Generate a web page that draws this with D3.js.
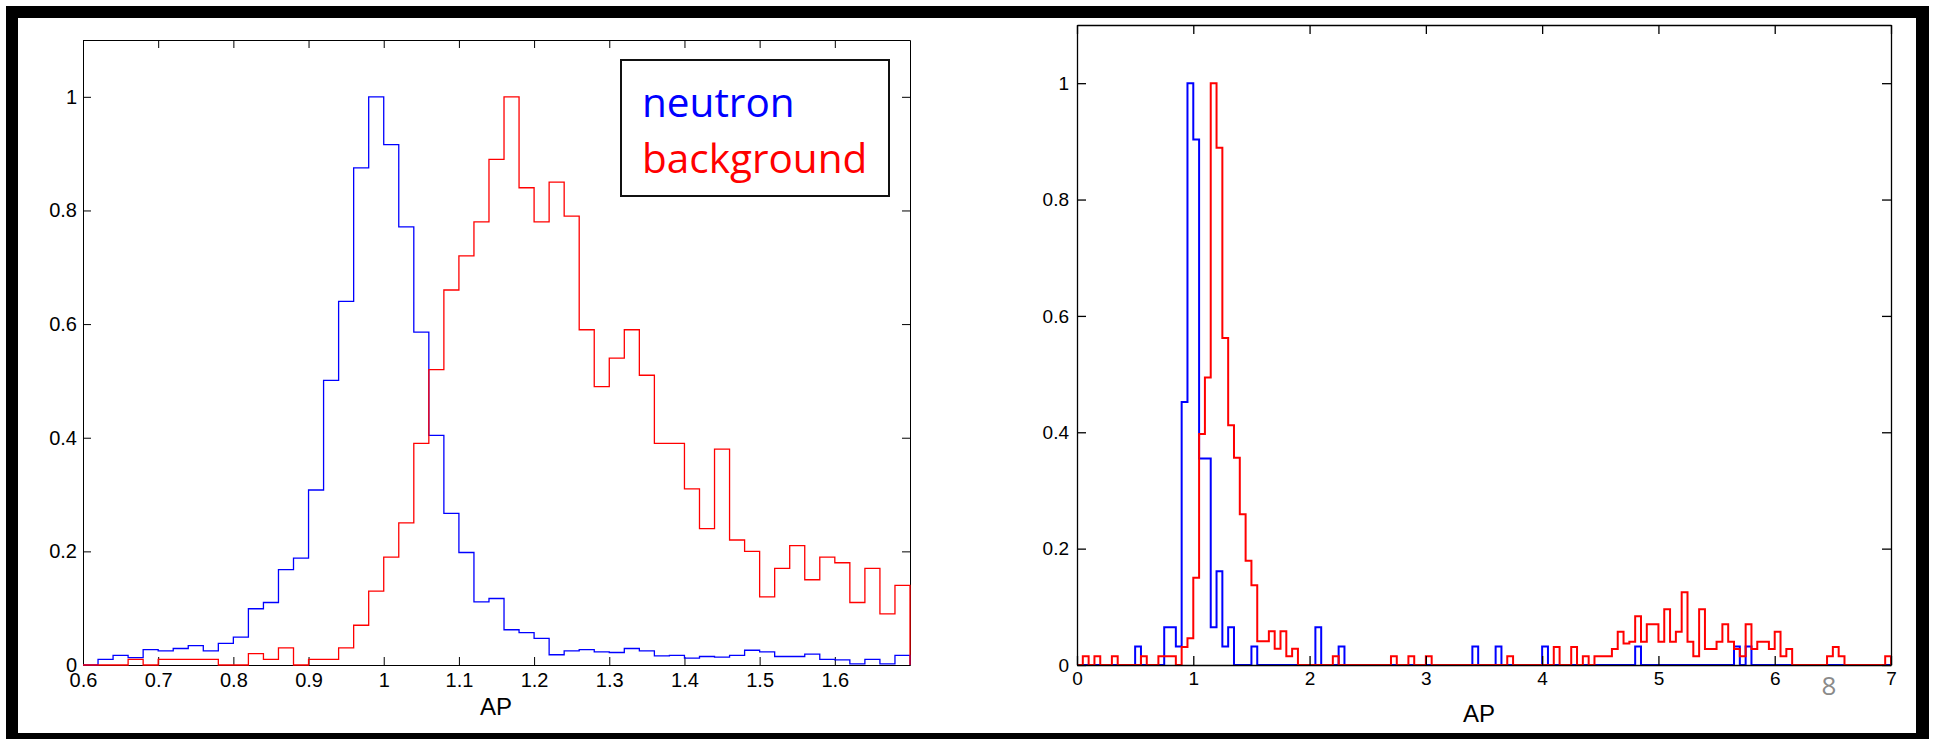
<!DOCTYPE html>
<html><head><meta charset="utf-8">
<script src="https://cdn.jsdelivr.net/npm/d3@7"></script>
<style>
html,body{margin:0;padding:0;background:#fff;}
svg{display:block;}
</style></head>
<body>
<svg id="c" width="1935" height="739"></svg>
<script>
// ---------------- DATA ----------------
// Left panel: histogram bins (width 0.02) starting at AP = 0.6
const leftBinStart = 0.6;
const leftBinWidth = 0.02;
const leftNeutron = [
  0, 0.010, 0.017, 0.013, 0.027, 0.025, 0.029, 0.034, 0.025, 0.038,
  0.049, 0.099, 0.110, 0.168, 0.188, 0.308, 0.501, 0.640, 0.875, 1.0,
  0.916, 0.771, 0.586, 0.404, 0.267, 0.198, 0.111, 0.117, 0.062, 0.057,
  0.047, 0.018, 0.025, 0.027, 0.023, 0.022, 0.029, 0.025, 0.016, 0.017,
  0.012, 0.015, 0.014, 0.017, 0.026, 0.023, 0.015, 0.015, 0.019, 0.010,
  0.009, 0.002, 0.010, 0.002, 0.017
];
const leftBackground = [
  0, 0, 0, 0.01, 0, 0.01, 0.01, 0.01, 0.01, 0,
  0, 0.02, 0.01, 0.03, 0, 0.01, 0.01, 0.03, 0.07, 0.13,
  0.19, 0.25, 0.39, 0.52, 0.66, 0.72, 0.78, 0.89, 1.0, 0.84,
  0.78, 0.85, 0.79, 0.59, 0.49, 0.54, 0.59, 0.51, 0.39, 0.39,
  0.31, 0.24, 0.38, 0.22, 0.20, 0.12, 0.17, 0.21, 0.15, 0.19,
  0.18, 0.11, 0.17, 0.09, 0.14
];

// Right panel: histogram bins (width 0.05) starting at AP = 0
const rightBinStart = 0;
const rightBinWidth = 0.05;
const rightNeutron = [
  0, 0, 0, 0, 0, 0, 0, 0, 0, 0, 0.032, 0, 0, 0, 0, 0.065, 0.065, 0.032, 0.452, 1.0,
  0.903, 0.355, 0.355, 0.065, 0.161, 0.032, 0.065, 0, 0, 0, 0.032, 0, 0, 0, 0, 0, 0, 0, 0, 0,
  0, 0.065, 0, 0, 0, 0.032, 0, 0, 0, 0, 0, 0, 0, 0, 0, 0, 0, 0, 0, 0,
  0, 0, 0, 0, 0, 0, 0, 0, 0.032, 0, 0, 0, 0.032, 0, 0, 0, 0, 0, 0, 0,
  0.032, 0, 0, 0, 0, 0, 0, 0, 0, 0, 0, 0, 0, 0, 0, 0, 0.032, 0, 0, 0,
  0, 0, 0, 0, 0, 0, 0, 0, 0, 0, 0, 0, 0, 0.032, 0, 0.032, 0, 0, 0, 0,
  0, 0, 0, 0, 0, 0, 0, 0, 0, 0, 0, 0, 0, 0, 0, 0, 0, 0, 0, 0
];
const rightBackground = [
  0, 0.015, 0, 0.015, 0, 0, 0.015, 0, 0, 0, 0, 0.015, 0, 0, 0.015, 0.015, 0.015, 0, 0.031, 0.046,
  0.150, 0.397, 0.494, 1.0, 0.889, 0.562, 0.412, 0.356, 0.259, 0.179, 0.137, 0.041, 0.041, 0.058, 0.028, 0.058, 0.015, 0.028, 0, 0,
  0, 0, 0, 0, 0.015, 0, 0, 0, 0, 0, 0, 0, 0, 0, 0.015, 0, 0, 0.015, 0, 0,
  0.015, 0, 0, 0, 0, 0, 0, 0, 0, 0, 0, 0, 0, 0, 0.015, 0, 0, 0, 0, 0,
  0, 0, 0.031, 0, 0, 0.031, 0, 0.015, 0, 0.015, 0.015, 0.015, 0.0275, 0.057, 0.037, 0.040, 0.084, 0.040, 0.070, 0.070,
  0.040, 0.096, 0.040, 0.057, 0.125, 0.040, 0.015, 0.096, 0.0275, 0.0275, 0.040, 0.070, 0.040, 0.0275, 0.015, 0.070, 0.0275, 0.040, 0.040, 0.0275,
  0.057, 0.015, 0.0275, 0, 0, 0, 0, 0, 0, 0.015, 0.031, 0.015, 0, 0, 0, 0, 0, 0, 0, 0.015
];

// Axes / ticks
const leftXDomain = [0.6, 1.7];
const rightXDomain = [0, 7];
const yDomain = [0, 1.1];
const leftXTicks = [0.6, 0.7, 0.8, 0.9, 1.0, 1.1, 1.2, 1.3, 1.4, 1.5, 1.6];
const leftXTickLabels = ["0.6", "0.7", "0.8", "0.9", "1", "1.1", "1.2", "1.3", "1.4", "1.5", "1.6"];
const yTicks = [0, 0.2, 0.4, 0.6, 0.8, 1];
const yTickLabels = ["0", "0.2", "0.4", "0.6", "0.8", "1"];
const rightXTicks = [0, 1, 2, 3, 4, 5, 6, 7];
const rightXTickLabels = ["0", "1", "2", "3", "4", "5", "6", "7"];
const xAxisTitle = "AP";
const legendLabels = ["neutron", "background"];
const seriesColors = ["#0000ff", "#ff0000"];
const slideNumber = "8";

// ---------------- DRAW ----------------
const svg = d3.select("#c");
svg.append("rect").attr("width", 1935).attr("height", 739).attr("fill", "#fff");

function stairs(values, start, width, x, y) {
  const pts = [[start, 0]];
  values.forEach((v, i) => pts.push([start + i * width, v]));
  const end = start + values.length * width;
  pts.push([end, values[values.length - 1]]);
  pts.push([end, 0]);
  return d3.line().x(d => x(d[0])).y(d => y(d[1])).curve(d3.curveStepAfter)(pts);
}

function labelFmt(ticks, labels) {
  return d => { const i = ticks.findIndex(t => Math.abs(t - d) < 1e-9); return i >= 0 ? labels[i] : ""; };
}

function drawAxes(g, x, y, xt, xl, opts) {
  const [x0, x1] = x.range();
  const [yb, yt] = y.range();
  const font = opts.font;
  const ax = [];
  ax.push(g.append("g").attr("transform", `translate(0,${yb})`)
    .call(d3.axisBottom(x).tickValues(xt).tickFormat(labelFmt(xt, xl))
      .tickSizeInner(-opts.tick).tickSizeOuter(0).tickPadding(opts.xpad)));
  ax.push(g.append("g").attr("transform", `translate(0,${yt})`)
    .call(d3.axisTop(x).tickValues(xt).tickFormat("")
      .tickSizeInner(-opts.tick).tickSizeOuter(0)));
  ax.push(g.append("g").attr("transform", `translate(${x0},0)`)
    .call(d3.axisLeft(y).tickValues(yTicks).tickFormat(labelFmt(yTicks, yTickLabels))
      .tickSizeInner(-opts.tick).tickSizeOuter(0).tickPadding(opts.ypad)));
  ax.push(g.append("g").attr("transform", `translate(${x1},0)`)
    .call(d3.axisRight(y).tickValues(yTicks).tickFormat("")
      .tickSizeInner(-opts.tick).tickSizeOuter(0)));
  ax.forEach(a => {
    a.select(".domain").attr("stroke", "#000").attr("stroke-width", opts.sw);
    a.selectAll(".tick line").attr("stroke", "#000").attr("stroke-width", opts.sw);
    a.selectAll(".tick text").attr("fill", "#000")
      .style("font-family", font).style("font-size", opts.fs + "px");
  });
}

// ----- Left panel -----
const xL = d3.scaleLinear().domain(leftXDomain).range([83, 910]);
const yL = d3.scaleLinear().domain(yDomain).range([665, 40]);
const gL = svg.append("g");
drawAxes(gL, xL, yL, leftXTicks, leftXTickLabels,
  {tick: 8, xpad: 8, ypad: 6, sw: 1, fs: 20, font: "'Liberation Sans', Arial, sans-serif"});
[leftNeutron, leftBackground].forEach((vals, si) => {
  gL.append("path").attr("d", stairs(vals, leftBinStart, leftBinWidth, xL, yL))
    .attr("fill", "none").attr("stroke", seriesColors[si]).attr("stroke-width", 1.3);
});
gL.append("text").attr("x", 496).attr("y", 715).attr("text-anchor", "middle")
  .style("font-family", "'Liberation Sans', Arial, sans-serif").style("font-size", "24px")
  .text(xAxisTitle);

// legend
const lg = gL.append("g");
lg.append("rect").attr("x", 621).attr("y", 60).attr("width", 268).attr("height", 136)
  .attr("fill", "#fff").attr("stroke", "#111").attr("stroke-width", 2);
legendLabels.forEach((t, i) => {
  lg.append("text").attr("x", 642).attr("y", [117, 173][i])
    .attr("fill", seriesColors[i])
    .style("font-family", "'Open Sans', 'Noto Sans', sans-serif").style("font-size", "40.5px")
    .text(t);
});

// ----- Right panel -----
const xR = d3.scaleLinear().domain(rightXDomain).range([1077, 1891]);
const yR = d3.scaleLinear().domain(yDomain).range([665, 25]);
const gR = svg.append("g");
[rightNeutron, rightBackground].forEach((vals, si) => {
  gR.append("path").attr("d", stairs(vals, rightBinStart, rightBinWidth, xR, yR))
    .attr("fill", "none").attr("stroke", seriesColors[si]).attr("stroke-width", 2)
    .attr("stroke-linejoin", "miter");
});
drawAxes(gR, xR, yR, rightXTicks, rightXTickLabels,
  {tick: 9, xpad: 7, ypad: 8, sw: 1.3, fs: 19, font: "'Liberation Sans', Arial, sans-serif"});
gR.append("text").attr("x", 1479).attr("y", 722).attr("text-anchor", "middle")
  .style("font-family", "'Liberation Sans', Arial, sans-serif").style("font-size", "24px")
  .text(xAxisTitle);

// slide number
svg.append("text").attr("x", 1829).attr("y", 695).attr("text-anchor", "middle")
  .attr("fill", "#8a8a8a")
  .style("font-family", "'Open Sans', 'Noto Sans', sans-serif").style("font-size", "26px")
  .text(slideNumber);

// frame
const frame = svg.append("g").attr("fill", "#000");
frame.append("rect").attr("x", 6).attr("y", 6).attr("width", 1923).attr("height", 12);
frame.append("rect").attr("x", 6).attr("y", 6).attr("width", 12).attr("height", 733);
frame.append("rect").attr("x", 6).attr("y", 733).attr("width", 1923).attr("height", 6);
frame.append("rect").attr("x", 1916).attr("y", 6).attr("width", 13).attr("height", 733);
</script>
</body></html>
